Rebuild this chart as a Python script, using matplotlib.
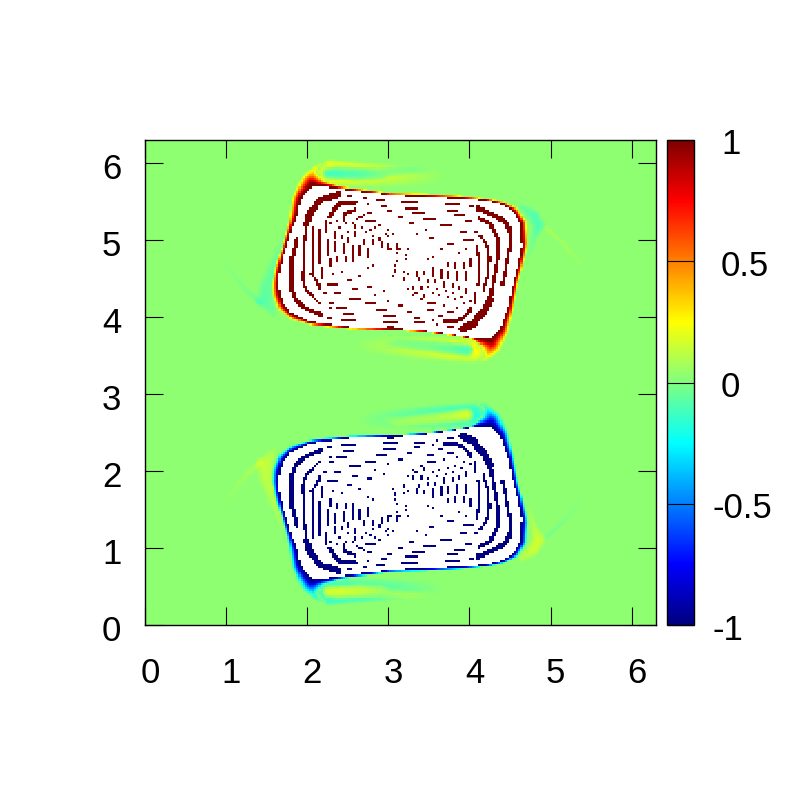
import matplotlib
matplotlib.use('Agg')
import matplotlib.pyplot as plt
import matplotlib.transforms as mtrans
import numpy as np
from matplotlib.colors import LinearSegmentedColormap
from matplotlib.path import Path

plt.rcParams['font.family'] = ['Liberation Sans', 'DejaVu Sans']

#axis ticks and labels
x_ticks = [0, 1, 2, 3, 4, 5, 6]
y_ticks = [0, 1, 2, 3, 4, 5, 6]
cb_ticks = [-1, -0.5, 0, 0.5, 1]
cb_labels = ['-1', '-0.5', '0', '0.5', '1']

background = 0.03

#boundary of the saturated core of the upper vortex (|w| > 1, left blank)
core_x = [2.857, 2.569, 2.281, 2.076, 1.952, 1.911, 1.878, 1.809, 1.726, 1.657, 1.657, 1.706, 1.809, 2.035,
          2.53, 3.144, 3.432, 3.843, 4.09, 4.254, 4.377, 4.468, 4.54, 4.60, 4.645, 4.624, 4.54, 4.418,
          4.213, 3.843, 3.432, 3.021]
core_y = [5.606, 5.64, 5.684, 5.70, 5.584, 5.476, 5.325, 5.13, 4.87, 4.567, 4.35, 4.177, 4.047, 3.94,
          3.874, 3.85, 3.83, 3.766, 3.72, 3.72, 3.85, 4.09, 4.437, 4.675, 4.913, 5.216, 5.37, 5.455,
          5.51, 5.54, 5.563, 5.584]

#outer edge of the sheared rim round the core
rim_x = [2.733, 2.405, 2.20, 2.125, 2.22, 2.10, 1.932, 1.809, 1.768, 1.685, 1.603, 1.562, 1.57, 1.644,
         1.809, 2.076, 2.53, 3.144, 3.432, 3.843, 4.05, 4.151, 4.172, 4.08, 4.213, 4.377, 4.48, 4.55,
         4.603, 4.665, 4.727, 4.706, 4.603, 4.418, 4.213, 3.843, 3.432, 3.021]
rim_y = [5.658, 5.70, 5.78, 5.888, 6.013, 5.987, 5.844, 5.563, 5.238, 4.913, 4.653, 4.437, 4.264, 4.09,
         3.961, 3.887, 3.844, 3.826, 3.805, 3.753, 3.70, 3.593, 3.484, 3.398, 3.419, 3.55, 3.787, 4.134,
         4.437, 4.675, 4.957, 5.238, 5.411, 5.498, 5.541, 5.584, 5.606, 5.615]

#filaments outside the core: x, y, half width, amplitude along each one
filaments = [
    # broad warm bodies of the two tongues
    ([2.26, 2.5, 2.9, 3.3, 3.7], [5.86, 5.85, 5.84, 5.83, 5.83],
     [0.17, 0.17, 0.16, 0.13, 0.08], [0.22, 0.2, 0.12, 0.06, 0.0]),
    ([4.05, 3.8, 3.4, 3.0, 2.6], [3.57, 3.58, 3.6, 3.62, 3.64],
     [0.17, 0.17, 0.16, 0.13, 0.08], [0.22, 0.2, 0.12, 0.06, 0.0]),
    # cool cores of the tongues
    ([2.26, 2.364, 2.651, 2.898, 3.021, 3.31, 3.555], [5.866, 5.866, 5.857, 5.857, 5.888, 5.91, 5.90],
     [0.09, 0.10, 0.10, 0.09, 0.07, 0.05, 0.03], [-0.36, -0.36, -0.28, -0.16, -0.11, -0.07, 0.0]),
    ([3.966, 3.555, 3.103, 2.9], [3.571, 3.614, 3.658, 3.62],
     [0.10, 0.09, 0.07, 0.04], [-0.36, -0.2, -0.09, 0.0]),
    # thin bright edge along the top of the upper tongue
    ([2.26, 2.487, 2.775, 3.144], [6.01, 5.996, 5.974, 5.95],
     [0.04, 0.04, 0.035, 0.03], [0.1, 0.06, 0.04, 0.0]),
    # cool band hugging the left and right sides of the rim
    ([1.768, 1.706, 1.603, 1.50, 1.48, 1.583], [5.195, 5.0, 4.697, 4.394, 4.22, 4.047],
     [0.04, 0.05, 0.08, 0.11, 0.12, 0.05], [-0.03, -0.04, -0.07, -0.09, -0.11, -0.05]),
    ([0.925, 1.172, 1.418], [4.805, 4.437, 4.177],
     [0.03, 0.035, 0.05], [0.0, -0.03, -0.07]),
    ([4.645, 4.788, 4.85, 4.788, 4.727], [5.433, 5.325, 5.195, 5.0, 4.783],
     [0.05, 0.09, 0.09, 0.05, 0.03], [-0.06, -0.12, -0.13, -0.06, -0.02]),
    ([4.953, 5.158, 5.364], [5.15, 4.957, 4.697],
     [0.035, 0.035, 0.03], [0.05, 0.035, 0.015]),
]

#unsaturated contour arcs inside the core: x, y, thickness
arcs = [
    ([2.384, 2.158, 2.035, 1.985], [5.593, 5.52, 5.346, 5.195], 0.082),
    ([1.985, 1.96, 1.944, 2.002, 2.15], [5.195, 4.87, 4.48, 4.33, 4.177], 0.036),
    ([1.878, 1.837, 1.796, 1.796, 1.85, 1.953, 2.18], [5.02, 4.87, 4.653, 4.394, 4.24, 4.134, 4.026], 0.052),
    ([2.055, 2.158], [4.567, 4.385], 0.036),
    ([2.61, 2.425, 2.343, 2.28], [5.49, 5.485, 5.41, 5.30], 0.05),
    ([2.59, 2.466, 2.446], [5.40, 5.346, 5.26], 0.04),
    ([2.69, 2.61], [5.316, 5.28], 0.03),
    ([4.11, 4.254, 4.44, 4.50], [5.41, 5.346, 5.24, 5.11], 0.063),
    ([4.50, 4.50, 4.46, 4.41], [5.11, 4.913, 4.697, 4.415], 0.04),
    ([4.13, 4.254, 4.357, 4.357, 4.295, 4.254], [5.28, 5.21, 5.02, 4.783, 4.46, 4.22], 0.044),
    ([4.254, 4.19, 4.05, 3.92], [4.22, 4.09, 3.917, 3.85], 0.095),
    ([4.14, 4.213, 4.246, 4.234, 4.17], [5.05, 4.935, 4.783, 4.567, 4.35], 0.036),
    ([4.09, 4.13, 4.13, 4.11], [4.92, 4.697, 4.524, 4.415], 0.036),
    ([3.69, 3.843, 3.946, 4.02], [3.94, 3.94, 4.004, 4.112], 0.044),
]

#short vertical dashes: x, y0, y1
columns = [
    (2.248, 5.02, 4.81), (2.351, 4.98, 4.85), (2.331, 5.13, 5.03), (2.425, 5.08, 5.01), (2.446, 4.96, 4.83),
    (2.548, 4.93, 4.80), (2.643, 4.93, 4.80), (2.742, 4.91, 4.76), (2.372, 4.80, 4.72), (2.474, 4.80, 4.72),
    (2.573, 4.78, 4.72), (2.277, 4.77, 4.67), (2.232, 5.27, 5.11), (2.158, 5.15, 4.68), (2.19, 4.65, 4.50),
    (2.055, 5.17, 4.57), (2.507, 5.03, 4.965), (2.598, 5.11, 5.05), (2.70, 5.03, 4.93), (2.82, 5.02, 4.93),
    (2.91, 4.98, 4.91), (2.99, 4.96, 4.89), (2.90, 5.05, 5.0), (2.577, 5.20, 5.15), (2.45, 5.325, 5.26),
    (3.10, 4.96, 4.91), (3.06, 4.56, 4.52), (4.02, 4.76, 4.65), (3.925, 4.70, 4.62), (3.82, 4.72, 4.62),
    (3.73, 4.70, 4.65), (3.555, 4.65, 4.52), (3.65, 4.63, 4.50), (3.75, 4.61, 4.50), (3.84, 4.59, 4.47),
    (3.945, 4.59, 4.46), (3.45, 4.61, 4.56), (3.36, 4.59, 4.53), (3.39, 4.52, 4.46), (3.48, 4.49, 4.44),
    (3.575, 4.49, 4.43), (3.68, 4.46, 4.40), (3.78, 4.44, 4.39), (3.87, 4.41, 4.35), (3.97, 4.39, 4.31),
    (3.31, 4.41, 4.37), (3.41, 4.41, 4.36), (4.07, 4.32, 4.16), (3.185, 4.52, 4.48),
]

#short horizontal dashes: y, x0, x1
rows = [
    (5.563, 2.49, 2.56), (5.537, 2.68, 2.73), (5.511, 2.86, 2.97), (5.44, 2.91, 2.97), (5.37, 3.00, 3.05),
    (5.35, 2.73, 2.81), (5.255, 2.71, 2.86), (4.437, 2.25, 2.39), (4.48, 2.495, 2.56), (4.407, 2.73, 2.78),
    (4.36, 2.56, 2.63), (4.307, 2.20, 2.24), (4.307, 2.32, 2.41), (4.285, 2.815, 2.86), (4.234, 2.52, 2.66),
    (4.186, 2.27, 2.34), (4.21, 2.98, 3.02), (4.164, 2.71, 2.86), (4.112, 2.37, 2.49), (4.09, 2.86, 3.0),
    (4.04, 2.44, 2.59), (3.99, 2.25, 2.31), (4.017, 2.94, 3.10), (3.96, 2.41, 2.61), (3.94, 2.93, 3.14),
    (3.874, 2.98, 3.08), (5.49, 3.145, 3.37), (5.41, 3.21, 3.37), (5.346, 3.30, 3.445), (5.295, 3.125, 3.18),
    (5.467, 3.69, 3.885), (5.39, 3.72, 3.855), (5.316, 3.815, 3.93), (5.44, 3.99, 4.06), (5.27, 3.44, 3.59),
    (5.25, 3.96, 4.03), (5.216, 3.27, 3.32), (5.195, 3.64, 3.78), (5.143, 3.445, 3.49), (5.12, 3.885, 3.975),
    (5.12, 4.06, 4.10), (5.02, 3.515, 3.565), (5.0, 3.92, 4.05), (4.95, 3.74, 3.80), (4.316, 3.33, 3.37),
    (4.234, 3.39, 3.42), (4.19, 3.495, 3.59), (4.09, 3.495, 3.56), (4.017, 3.62, 3.69), (4.07, 3.72, 3.82),
    (3.874, 3.74, 3.80), (3.90, 3.59, 3.62), (3.99, 3.32, 3.39), (3.917, 3.32, 3.44), (4.07, 3.25, 3.30),
    (4.14, 3.125, 3.18), (4.675, 3.06, 3.10),
]

#isolated cells
dots_x = [2.30, 2.37, 2.48, 2.405, 2.495, 2.67, 2.725, 2.77, 2.96, 3.0, 3.04, 3.12, 2.425, 2.32, 2.74, 2.815,
          3.10, 3.08, 2.65, 2.94, 2.28, 3.135, 2.55, 2.835, 2.90, 3.0, 3.06, 2.795, 2.74, 3.35, 3.645, 3.97,
          3.865, 3.55, 3.48, 3.10, 3.145, 3.235, 3.21, 3.22, 3.11, 3.185, 3.08, 3.255, 3.235, 3.29, 3.505,
          3.605, 3.70, 3.795, 3.90, 4.0, 3.535, 3.64, 3.73, 3.82, 3.45, 3.92, 3.55, 3.68, 3.84, 3.43]
dots_y = [5.225, 5.25, 5.21, 5.15, 5.11, 5.15, 5.11, 5.13, 5.09, 5.04, 4.88, 4.88, 4.60, 4.56, 4.65, 4.675,
          4.73, 4.61, 4.53, 4.33, 4.11, 5.29, 5.225, 5.17, 5.195, 5.14, 5.07, 5.04, 5.47, 5.09, 4.90, 4.88,
          4.83, 4.77, 4.75, 4.83, 4.88, 4.89, 4.82, 4.75, 4.73, 4.60, 4.60, 4.56, 4.36, 4.285, 4.385,
          4.37, 4.35, 4.32, 4.27, 4.21, 4.31, 4.285, 4.255, 4.23, 4.26, 4.19, 3.97, 4.14, 4.13, 4.30]

#grid##########################################
n = 230
edges = np.linspace(0, 6.3, n + 1)
dx = edges[1] - edges[0]
centers = 0.5 * (edges[:-1] + edges[1:])
X, Y = np.meshgrid(centers, centers)


def densify(xs, ys, closed=False, step=0.01):
    xs, ys = np.asarray(xs, float), np.asarray(ys, float)
    if closed:
        xs, ys = np.append(xs, xs[0]), np.append(ys, ys[0])
    s = np.r_[0, np.cumsum(np.hypot(np.diff(xs), np.diff(ys)))]
    t = np.linspace(0, s[-1], max(int(s[-1] / step), 2))
    return t, s, np.interp(t, s, xs), np.interp(t, s, ys)


def nearest(px, py):
    # distance from every cell to a sampled curve, and the closest sample
    best = np.full(X.shape, np.inf)
    idx = np.zeros(X.shape, dtype=int)
    for k, (a, b) in enumerate(zip(px, py)):
        d = (X - a) ** 2 + (Y - b) ** 2
        m = d < best
        best[m] = d[m]
        idx[m] = k
    return np.sqrt(best), idx


def inside(xs, ys):
    return Path(np.column_stack([xs, ys])).contains_points(np.column_stack([X.ravel(), Y.ravel()])).reshape(X.shape)


def mark(arr, x, y):
    i = np.clip(np.floor(np.asarray(y) / dx).astype(int), 0, n - 1)
    j = np.clip(np.floor(np.asarray(x) / dx).astype(int), 0, n - 1)
    arr[i, j] = True


#upper vortex, as a departure from the background###########
delta = np.zeros(X.shape)
for fx, fy, fw, fv in filaments:
    t, s, px, py = densify(fx, fy)
    d, idx = nearest(px, py)
    w = np.interp(t, s, fw)[idx]
    v = np.interp(t, s, fv)[idx]
    delta += v * np.clip(1 - (d / w) ** 2, 0, 1)

core = inside(core_x, core_y)
rim = inside(rim_x, rim_y)
_, _, cx, cy = densify(core_x, core_y, closed=True)
_, _, rx, ry = densify(rim_x, rim_y, closed=True)
d_core, _ = nearest(cx, cy)
d_rim, _ = nearest(rx, ry)
ramp = d_rim / (d_rim + d_core + 1e-9)
# the rim saturates before it reaches the core
delta[rim] = np.clip(1.3 * ramp[rim], 0, 1)

stripes = np.zeros(X.shape, dtype=bool)
for ax_, ay_, thick in arcs:
    _, _, px, py = densify(ax_, ay_)
    d, _ = nearest(px, py)
    stripes |= d < thick / 2
# dashes lose a little at each end so neighbours stay apart on the grid
for cx_, y0, y1 in columns:
    ys_ = np.arange(min(y0, y1) + dx / 3, max(y0, y1) - dx / 3, dx / 2)
    mark(stripes, np.full(ys_.shape, cx_), ys_)
for ry_, x0, x1 in rows:
    xs_ = np.arange(x0 + dx / 3, x1 - dx / 3, dx / 2)
    mark(stripes, xs_, np.full(xs_.shape, ry_))
mark(stripes, dots_x, dots_y)
stripes &= core

#the lower vortex is the upper one reflected in y = pi with opposite sign
field = background + delta - delta[::-1]
field[core] = np.nan
field[core[::-1]] = np.nan
field[stripes] = 1.0
field[stripes[::-1]] = -1.0

#figure########################################
jet_stops = [(0, (0, 0, 0.5)), (1 / 8, (0, 0, 1)), (3 / 8, (0, 1, 1)),
             (5 / 8, (1, 1, 0)), (7 / 8, (1, 0, 0)), (1, (0.5, 0, 0))]
cmap = LinearSegmentedColormap.from_list('jet8', jet_stops, N=512)

fig = plt.figure(figsize=(8, 8), dpi=100)
ax = fig.add_axes([145 / 800, 175 / 800, 511 / 800, 485 / 800])
cax = fig.add_axes([667 / 800, 175 / 800, 27 / 800, 485 / 800])

mesh = ax.pcolormesh(edges, edges, np.ma.masked_invalid(field), cmap=cmap, vmin=-1, vmax=1,
                     shading='flat', rasterized=True)
ax.set_xlim(0, 6.3)
ax.set_ylim(0, 6.3)
ax.set_xticks(x_ticks)
ax.set_yticks(y_ticks)
ax.set_xticklabels([str(v) for v in x_ticks])
ax.set_yticklabels([str(v) for v in y_ticks])
ax.tick_params(axis='both', which='major', direction='in', length=13, width=0.8,
               top=True, right=True, labelsize=25, color='black')
ax.tick_params(axis='x', pad=23)
ax.tick_params(axis='y', pad=17)
for side in ax.spines.values():
    side.set_linewidth(1.0)

#labels sit a few pixels off their ticks
shift_x = mtrans.ScaledTranslation(5 / 100, 0, fig.dpi_scale_trans)
shift_y = mtrans.ScaledTranslation(0, -3 / 100, fig.dpi_scale_trans)
for lab in ax.get_xticklabels():
    lab.set_transform(lab.get_transform() + shift_x)
for lab in ax.get_yticklabels():
    lab.set_transform(lab.get_transform() + shift_y)

cb = fig.colorbar(mesh, cax=cax)
cb.solids.set_rasterized(True)
cb.set_ticks(cb_ticks)
cb.set_ticklabels([''] * len(cb_ticks))
cax.tick_params(axis='y', direction='in', length=19.5, width=0.8, right=True, left=False, color='black')
cb.outline.set_linewidth(1.0)

label_tf = mtrans.blended_transform_factory(fig.transFigure, cax.transData)
label_tf = label_tf + mtrans.ScaledTranslation(0, -5 / 100, fig.dpi_scale_trans)
for v, s in zip(cb_ticks, cb_labels):
    x_at = 713 / 800 if s.startswith('-') else 721 / 800
    fig.text(x_at, v, s, transform=label_tf, ha='left', va='center', fontsize=25, color='black')

fig.savefig('out.png', dpi=100)
